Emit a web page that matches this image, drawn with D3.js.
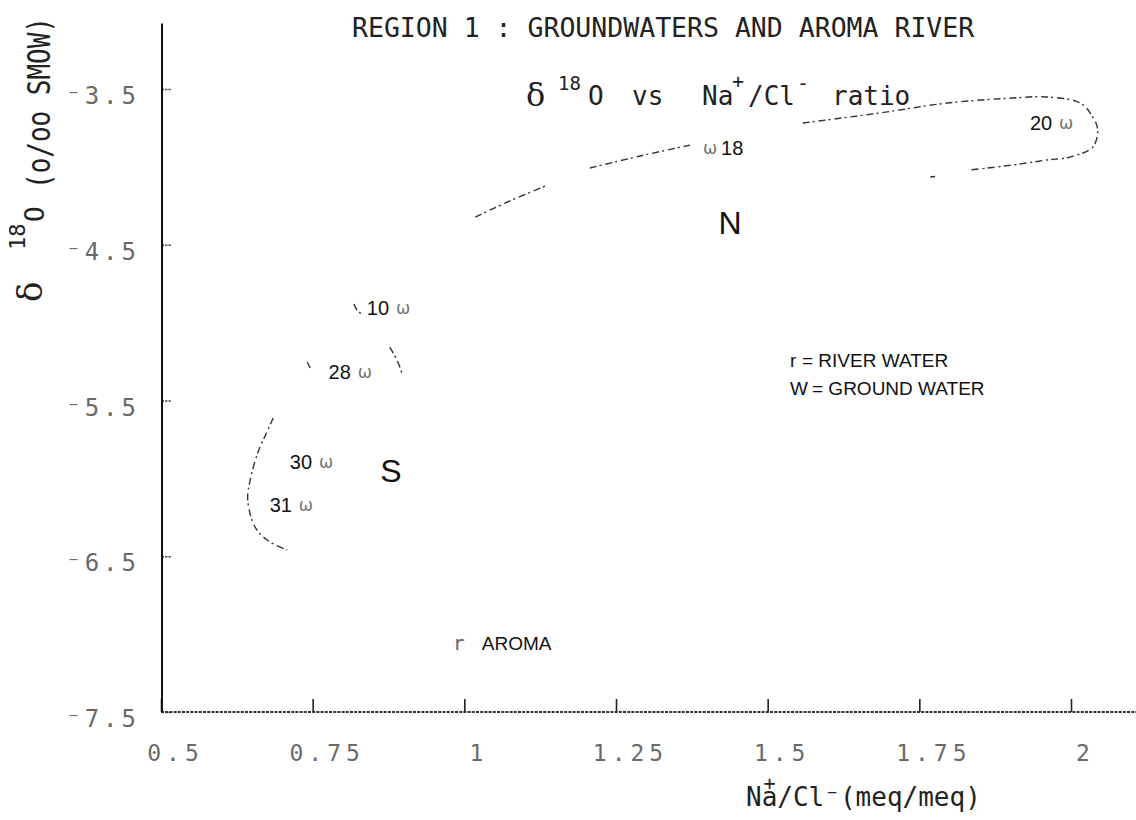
<!DOCTYPE html>
<html><head><meta charset="utf-8">
<script src="https://cdn.jsdelivr.net/npm/d3@7"></script>
<style>
html,body{margin:0;padding:0;background:#fff;}
svg{display:block;}
</style></head><body>
<svg id="chart" width="1136" height="820"></svg>
<script>
// ---- data ----
const xTicks = [0.5, 0.75, 1, 1.25, 1.5, 1.75, 2];
const yTicks = [-3.5, -4.5, -5.5, -6.5, -7.5];
const groundIds = ["10", "18", "20", "28", "30", "31"];
const groundNaCl = [0.899, 1.405, 1.992, 0.836, 0.772, 0.739];
const groundD18O = [-4.906, -3.879, -3.718, -5.317, -5.895, -6.171];
const groundLabelSide = ["left", "right", "left", "left", "left", "left"];
const riverNames = ["AROMA"];
const riverNaCl = [0.991];
const riverD18O = [-7.057];
const regionNames = ["N", "S"];
const regionNaCl = [1.438, 0.879];
const regionD18O = [-4.360, -5.949];
// hand-drawn envelopes (Na/Cl, d18O), broken into visible pieces
const northEnvelope = [
  [[1.018, -4.322], [1.075, -4.219], [1.138, -4.116]],
  [[1.207, -4.007], [1.290, -3.930], [1.372, -3.860]],
  [[1.558, -3.718], [1.685, -3.654], [1.796, -3.590], [1.904, -3.558], [1.960, -3.551],
   [2.015, -3.590], [2.036, -3.680], [2.044, -3.763], [2.036, -3.872], [1.998, -3.937],
   [1.960, -3.956], [1.904, -3.988], [1.833, -4.020]],
  [[1.768, -4.065], [1.776, -4.062]]
];
const southEnvelope = [
  [[0.685, -5.612], [0.673, -5.715], [0.660, -5.831], [0.647, -6.010], [0.643, -6.139],
   [0.655, -6.312], [0.675, -6.396], [0.708, -6.460]],
  [[0.741, -5.253], [0.746, -5.291]],
  [[0.818, -4.880], [0.823, -4.919], [0.833, -4.951]],
  [[0.877, -5.157], [0.889, -5.240], [0.897, -5.323]]
];
const legendSymbols = ["r", "W"];
const legendTexts = ["= RIVER WATER", "= GROUND WATER"];
const yAxisTop = -3.08;

// ---- chart ----
const W = 1136, H = 820;
const svg = d3.select("#chart");
svg.append("rect").attr("width", W).attr("height", H).attr("fill", "#fff");

const x = d3.scaleLinear().domain([0.5, 2]).range([161, 1071]);
const y = d3.scaleLinear().domain([-3.5, -7.5]).range([89, 712]);
const mono = "DejaVu Sans Mono, Liberation Mono, monospace";
const sans = "Liberation Sans, Arial, sans-serif";

// x axis
const gx = svg.append("g").attr("transform", `translate(0,${y(-7.5)})`)
  .call(d3.axisBottom(x).tickValues(xTicks).tickSize(-13).tickPadding(33).tickFormat(d => String(d)));
gx.select(".domain").remove();
gx.selectAll(".tick line").attr("stroke", "#222").attr("stroke-width", 1.6);
gx.selectAll(".tick text").attr("font-family", mono).attr("font-size", 23)
  .attr("letter-spacing", 5).attr("fill", "#6a6a6a").attr("dx", 14);
svg.append("line").attr("x1", x(0.5)).attr("x2", W)
  .attr("y1", y(-7.5)).attr("y2", y(-7.5))
  .attr("stroke", "#333").attr("stroke-width", 2).attr("stroke-dasharray", "3 1.2");

// y axis
const gy = svg.append("g").attr("transform", `translate(${x(0.5) + 1},0)`)
  .call(d3.axisLeft(y).tickValues(yTicks).tickSize(-10).tickPadding(22)
    .tickFormat(d => "\u207B" + Math.abs(d).toFixed(1)));
gy.select(".domain").remove();
gy.selectAll(".tick line").attr("stroke", "#333").attr("stroke-width", 1.5).attr("stroke-dasharray", "2 1.3");
gy.selectAll(".tick text").attr("font-family", mono).attr("font-size", 24)
  .attr("letter-spacing", 4).attr("fill", "#6a6a6a").attr("transform", "translate(0,7)");
svg.append("line").attr("x1", x(0.5) + 1).attr("x2", x(0.5) + 1)
  .attr("y1", y(yAxisTop)).attr("y2", y(-7.5))
  .attr("stroke", "#111").attr("stroke-width", 2);

// envelopes
const line = d3.line().x(d => x(d[0])).y(d => y(d[1])).curve(d3.curveCatmullRom.alpha(0.5));
svg.append("g").selectAll("path").data(northEnvelope.concat(southEnvelope)).join("path")
  .attr("d", line).attr("fill", "none").attr("stroke", "#333").attr("stroke-width", 1.4)
  .attr("stroke-dasharray", "7 3 2 4");

// groundwater points
const gp = svg.append("g").selectAll("g").data(groundIds).join("g")
  .attr("transform", (d, i) => `translate(${x(groundNaCl[i])},${y(groundD18O[i])})`);
gp.append("text").text("\u03C9").attr("text-anchor", "middle").attr("dy", "0.35em")
  .attr("font-family", "DejaVu Sans, sans-serif").attr("font-size", 17).attr("fill", "#777");
gp.append("text").text(d => d)
  .attr("x", (d, i) => groundLabelSide[i] === "left" ? -14 : 11)
  .attr("text-anchor", (d, i) => groundLabelSide[i] === "left" ? "end" : "start")
  .attr("dy", "0.36em").attr("font-family", sans).attr("font-size", 20).attr("fill", "#111");

// river point
const rp = svg.append("g").selectAll("g").data(riverNames).join("g")
  .attr("transform", (d, i) => `translate(${x(riverNaCl[i])},${y(riverD18O[i])})`);
rp.append("text").text("r").attr("text-anchor", "middle").attr("dy", "0.35em")
  .attr("font-family", mono).attr("font-size", 20).attr("fill", "#666");
rp.append("text").text(d => d).attr("x", 23).attr("dy", "0.36em")
  .attr("font-family", sans).attr("font-size", 19).attr("fill", "#111");

// region letters
svg.append("g").selectAll("text").data(regionNames).join("text")
  .attr("x", (d, i) => x(regionNaCl[i])).attr("y", (d, i) => y(regionD18O[i]))
  .attr("dy", "0.36em").attr("text-anchor", "middle")
  .attr("font-family", sans).attr("font-size", 32).attr("fill", "#111").text(d => d);

// legend
const lg = svg.append("g").attr("transform", "translate(790,367)");
lg.selectAll("g").data(legendSymbols).join("g")
  .attr("transform", (d, i) => `translate(0,${i * 28})`)
  .each(function (d, i) {
    const g = d3.select(this);
    g.append("text").text(d).attr("font-family", sans).attr("font-size", 19).attr("fill", "#111");
    g.append("text").text(legendTexts[i]).attr("x", i === 0 ? 12 : 22).attr("font-family", sans)
      .attr("font-size", 19).attr("fill", "#111");
  });

// title
svg.append("text").attr("x", 352).attr("y", 37).attr("font-family", mono).attr("font-size", 26.5)
  .attr("fill", "#222").text("REGION 1 : GROUNDWATERS AND AROMA RIVER");

// subtitle
const st = svg.append("g").attr("fill", "#222");
st.append("text").attr("x", 526).attr("y", 106).attr("font-family", "DejaVu Serif, serif")
  .attr("font-size", 32).text("\u03B4");
st.append("text").attr("x", 558).attr("y", 90).attr("font-family", mono).attr("font-size", 19).text("18");
st.append("text").attr("x", 588).attr("y", 105).attr("font-family", mono).attr("font-size", 26).text("O");
st.append("text").attr("x", 632).attr("y", 105).attr("font-family", mono).attr("font-size", 26).text("vs");
st.append("text").attr("x", 702).attr("y", 105).attr("font-family", mono).attr("font-size", 26).text("Na");
st.append("text").attr("x", 732).attr("y", 88).attr("font-family", mono).attr("font-size", 20).text("+");
st.append("text").attr("x", 748).attr("y", 105).attr("font-family", mono).attr("font-size", 26).text("/Cl");
st.append("text").attr("x", 797).attr("y", 90).attr("font-family", mono).attr("font-size", 20).text("-");
st.append("text").attr("x", 832).attr("y", 105).attr("font-family", mono).attr("font-size", 26).text("ratio");

// y axis title (rotated)
const yt = svg.append("g").attr("transform", "translate(50,302) rotate(-90)").attr("fill", "#222");
yt.append("text").attr("x", 0).attr("y", -8).attr("font-family", "DejaVu Serif, serif")
  .attr("font-size", 34).text("\u03B4");
yt.append("text").attr("x", 52).attr("y", -25).attr("font-family", mono).attr("font-size", 22).text("18");
yt.append("text").attr("x", 80).attr("y", -6).attr("font-family", mono).attr("font-size", 26).text("O");
yt.append("text").attr("x", 113).attr("y", 0).attr("font-family", mono).attr("font-size", 32)
  .attr("textLength", 172).attr("lengthAdjust", "spacingAndGlyphs").text("(o/oo SMOW)");

// x axis title
const xt = svg.append("g").attr("fill", "#222").attr("font-family", mono).attr("font-size", 26);
xt.append("text").attr("x", 746).attr("y", 806).text("Na/Cl\u207B(meq/meq)");
xt.append("text").attr("x", 746 + 15.65 * 1.5).attr("y", 790).attr("text-anchor", "middle")
  .attr("font-size", 20).text("+");
</script>
</body></html>
